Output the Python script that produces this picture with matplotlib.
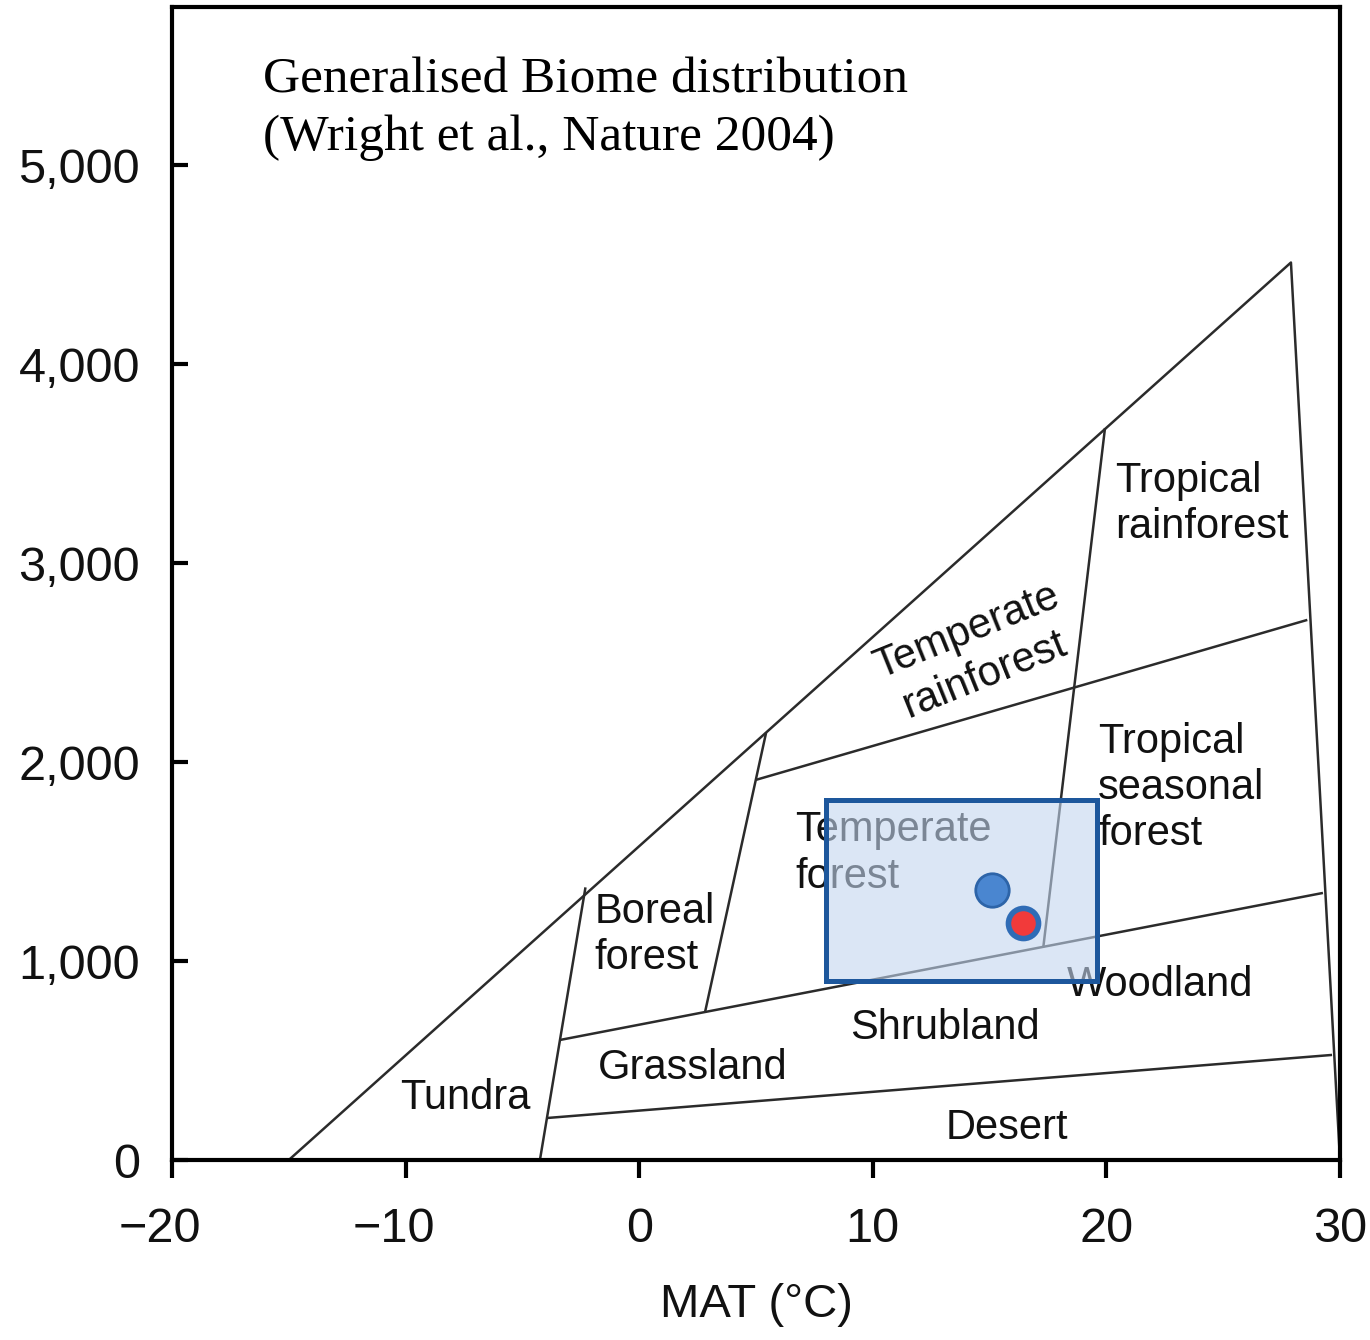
import matplotlib
matplotlib.use("Agg")
import matplotlib.pyplot as plt
from matplotlib.patches import Rectangle
from matplotlib.ticker import FuncFormatter
from matplotlib.transforms import ScaledTranslation

# Biome boundary segments: (MAT start, MAP start, MAT end, MAP end)
outer_x = [-15.0, 27.9, 30.0]
outer_y = [0, 4510, 0]

seg_x0 = [-4.25, -3.95, -3.4, 2.82, 4.99, 17.3]
seg_y0 = [0, 211, 603, 744, 1910, 1070]
seg_x1 = [-2.3, 29.66, 29.27, 5.43, 28.6, 19.94]
seg_y1 = [1370, 528, 1342, 2146, 2714, 3678]

# Biome labels
biome_names = ["Tundra", "Boreal\nforest", "Grassland", "Shrubland", "Desert",
               "Woodland", "Temperate\nforest", "Tropical\nseasonal\nforest",
               "Tropical\nrainforest"]
biome_x = [-7.46, -1.9, 2.3, 13.1, 15.75, 22.3, 6.67, 19.64, 20.37]
biome_y = [312, 1130, 462, 663, 161, 879, 1540, 1870, 3296]
biome_ha = ["center", "left", "center", "center", "center",
            "center", "left", "left", "left"]

rot_label = "Temperate\nrainforest"
rot_x, rot_y = 14.4, 2545

# Study region and site climates
box_x = [8.0, 19.6]
box_y = [900, 1810]
site_blue = (15.09, 1357)
site_red = (16.43, 1192)

x_ticks = [-20, -10, 0, 10, 20, 30]
y_ticks = [0, 1000, 2000, 3000, 4000, 5000]

fig = plt.figure(figsize=(13.7, 13.4), dpi=100)
ax = fig.add_axes([172 / 1370, 1 - 1160 / 1340, 1168 / 1370, 1153 / 1340])
ax.set_xlim(-20, 30)
ax.set_ylim(0, 5794)

sans = "Liberation Sans"
line_kw = dict(color="#2b2b2b", lw=1.8, solid_capstyle="butt")
ax.plot(outer_x, outer_y, **line_kw)
for x0, y0, x1, y1 in zip(seg_x0, seg_y0, seg_x1, seg_y1):
    ax.plot([x0, x1], [y0, y1], **line_kw)

for name, x, y, ha in zip(biome_names, biome_x, biome_y, biome_ha):
    ax.text(x, y, name, ha=ha, va="center", fontsize=30, family=sans,
            color="#111111", linespacing=1.2, multialignment="left")
ax.text(rot_x, rot_y, rot_label, ha="center", va="center", rotation=22,
        rotation_mode="anchor", fontsize=30, family=sans, color="#111111",
        linespacing=1.2, multialignment="center")

# Highlighted climate window
ax.add_patch(Rectangle((box_x[0], box_y[0]), box_x[1] - box_x[0],
                       box_y[1] - box_y[0], facecolor="#c3d6ef", alpha=0.6,
                       edgecolor="none", zorder=4))
ax.add_patch(Rectangle((box_x[0], box_y[0]), box_x[1] - box_x[0],
                       box_y[1] - box_y[0], facecolor="none",
                       edgecolor="#1d579c", lw=3.6, zorder=5))

ax.scatter([site_blue[0]], [site_blue[1]], s=580, color="#4a86d0",
           edgecolors="#2d64a8", linewidths=2, zorder=6)
ax.scatter([site_red[0]], [site_red[1]], s=470, color="#f23a3a",
           edgecolors="#2f6cb6", linewidths=4, zorder=6)

# Title
ax.text(0.078, 0.926, "Generalised Biome distribution", transform=ax.transAxes,
        fontsize=37, family="Liberation Serif", ha="left", va="baseline")
ax.text(0.078, 0.876, "(Wright et al., Nature 2004)", transform=ax.transAxes,
        fontsize=37, family="Liberation Serif", ha="left", va="baseline")

# Axes styling
for sp in ax.spines.values():
    sp.set_linewidth(3)
ax.set_xticks(x_ticks)
ax.set_yticks(y_ticks)
ax.xaxis.set_major_formatter(FuncFormatter(lambda v, p: f"{int(v)}".replace("-", "\u2212")))
ax.yaxis.set_major_formatter(FuncFormatter(lambda v, p: f"{int(v):,}"))
ax.tick_params(axis="x", direction="out", length=13, width=3, pad=21,
               labelsize=35)
ax.tick_params(axis="y", direction="in", length=11.5, width=3, pad=23,
               labelsize=35)
for lab in ax.get_xticklabels() + ax.get_yticklabels():
    lab.set_family(sans)
    lab.set_color("#111111")

# Centre negative labels on their digits rather than on the minus sign
shift = ScaledTranslation(-12 / 100, 0, fig.dpi_scale_trans)
for tick, val in zip(ax.xaxis.get_major_ticks(), x_ticks):
    if val < 0:
        tick.label1.set_transform(tick.label1.get_transform() + shift)

ax.set_xlabel("MAT (\u00b0C)", fontsize=34, family=sans, labelpad=22,
              color="#111111")

fig.savefig("out.png", dpi=100)
